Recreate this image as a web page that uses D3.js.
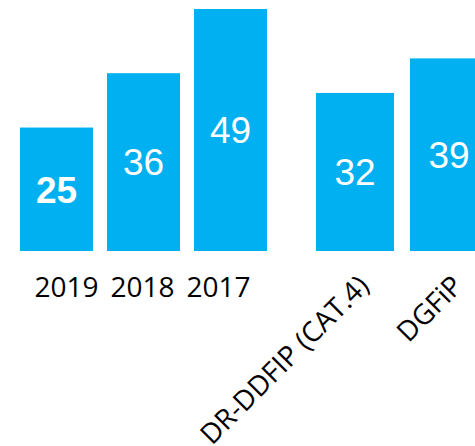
<!DOCTYPE html>
<html>
<head>
<meta charset="utf-8">
<script src="https://cdn.jsdelivr.net/npm/d3@7"></script>
<style>
  html, body { margin: 0; padding: 0; background: #fff; }
  svg { display: block; }
</style>
</head>
<body>
<svg id="chart" width="475" height="446"></svg>
<script>
// Yearly results
const years = ["2019", "2018", "2017"];
const yearValues = [25, 36, 49];
// Comparison benchmarks
const benchmarks = ["DR-DDFIP (CAT.4)", "DGFiP"];
const benchmarkValues = [32, 39];

const W = 475, H = 446;
const baseY = 251;
const barColor = "#00B0F0";

const svg = d3.select("#chart");

const y = d3.scaleLinear().domain([0, 49]).range([baseY, 9]);

// Left group: one bar per year
const xYears = d3.scaleBand().domain(years).range([20, 267]).paddingInner(0.161).paddingOuter(0);
// Right group: benchmark bars (last one runs past the right edge)
const xBench = d3.scaleBand().domain(benchmarks).range([316, 488]).paddingInner(0.17).paddingOuter(0);

const yearData = years.map((k, i) => ({ key: k, value: yearValues[i], bold: i === 0 }));
const benchData = benchmarks.map((k, i) => ({ key: k, value: benchmarkValues[i], bold: false }));

function drawGroup(data, x) {
  const g = svg.append("g");
  g.selectAll("rect").data(data).join("rect")
    .attr("x", d => x(d.key))
    .attr("y", d => y(d.value))
    .attr("width", x.bandwidth())
    .attr("height", d => y(0) - y(d.value))
    .attr("fill", barColor);
  g.selectAll("text.val").data(data).join("text")
    .attr("class", "val")
    .attr("x", d => x(d.key) + x.bandwidth() / 2)
    .attr("y", d => (y(d.value) + y(0)) / 2)
    .attr("dy", "0.36em")
    .attr("text-anchor", "middle")
    .attr("fill", "#fff")
    .attr("font-family", "'Liberation Sans', Arial, sans-serif")
    .attr("font-size", 37)
    .attr("font-weight", d => d.bold ? "bold" : "normal")
    .text(d => d.value);
}

drawGroup(yearData, xYears);
drawGroup(benchData, xBench);

// Year labels sit on a single row beneath the left group
const xYearLabels = d3.scalePoint().domain(years).range([66.5, 218.5]);
svg.append("g").selectAll("text").data(years).join("text")
  .attr("x", d => xYearLabels(d))
  .attr("y", 297)
  .attr("text-anchor", "middle")
  .attr("fill", "#000")
  .attr("font-family", "'Open Sans', sans-serif")
  .attr("font-size", 28)
  .text(d => d);

// Benchmark labels, rotated 45 degrees and ending under each bar
svg.append("g").selectAll("text").data(benchmarks).join("text")
  .attr("transform", d => `translate(${xBench(d) + xBench.bandwidth() / 2 + 15.5},${baseY + 36.5}) rotate(-45)`)
  .attr("text-anchor", "end")
  .attr("fill", "#000")
  .attr("font-family", "'Open Sans', sans-serif")
  .attr("font-size", 28)
  .text(d => d);
</script>
</body>
</html>
